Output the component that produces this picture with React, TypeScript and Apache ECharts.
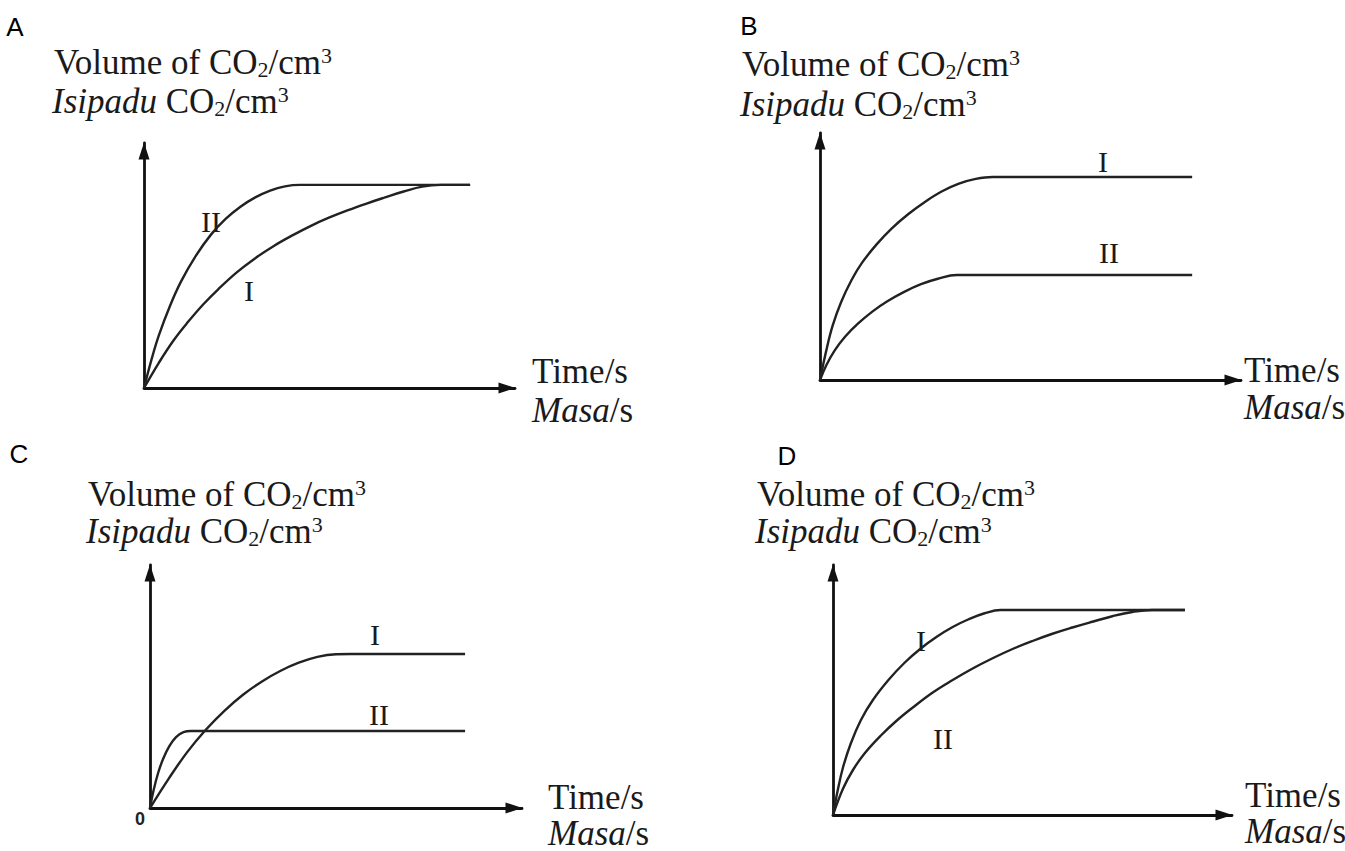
import React, { useEffect, useRef } from "react";
import * as echarts from "echarts";

// ---- data (time %, volume % of each axis span) ----
const panelLetters = ["A", "B", "C", "D"];
const curveNames = ["I", "II"];
const yTitleEn = "Volume of CO";
const yTitleMs = "Isipadu";
const xTitleEn = "Time/s";
const xTitleMs = "Masa";
const originLabel = "0";

const panelA_I = [[0, 0], [4, 10.3], [8, 19.5], [12, 27.2], [16, 34.2], [20, 40.3], [25, 47.2], [30, 53.0], [35, 58.0], [40, 62.3], [45, 66.2], [50, 69.6], [55, 72.6], [60, 75.3], [65, 77.8], [70, 80.2], [75, 82.2], [80, 82.9], [87.9, 82.9]];
const panelA_II = [[0, 0], [2, 11.5], [4, 21.5], [7, 33.5], [10, 43.5], [14, 54.0], [18, 62.5], [22, 69.0], [26, 74.0], [30, 77.8], [34, 80.6], [38, 82.3], [42, 82.9], [87.9, 82.9]];

const panelB_I = [[0, 0], [1.5, 12], [3, 22], [5, 31.5], [7.5, 40.5], [10, 47.5], [13.5, 55.0], [17, 61.3], [21, 67.2], [25, 72.2], [29, 76.4], [33, 79.5], [37, 81.4], [41, 82.2], [88.4, 82.2]];
const panelB_II = [[0, 0], [1.5, 6.0], [3.5, 12.0], [6, 17.6], [9, 22.8], [12.5, 27.8], [16, 31.9], [20, 35.7], [24, 38.8], [28, 41.0], [32.5, 42.5], [88.4, 42.5]];

const panelC_I = [[0, 0], [5, 12.0], [10, 23.0], [15, 32.2], [20, 40.0], [25, 46.6], [30, 52.0], [35, 56.4], [40, 59.8], [45, 62.2], [50, 63.3], [54, 63.4], [84.7, 63.4]];
const panelC_II = [[0, 0], [1, 7.5], [2.2, 14.5], [3.6, 20.5], [5.2, 25.5], [7, 29.2], [9, 31.2], [11, 31.7], [84.7, 31.7]];

const panelD_I = [[0, 0], [1.2, 10], [2.5, 19.0], [4.5, 28.8], [7, 38.0], [10, 46.0], [14, 54.2], [18, 61.0], [22, 66.6], [26, 71.3], [30, 75.2], [34, 78.3], [38, 80.7], [42, 82.0], [88.2, 82.0]];
const panelD_II = [[0, 0], [2.5, 10.5], [5, 18.0], [8, 24.8], [12, 31.8], [16, 37.8], [20, 43.0], [25, 49.0], [30, 54.0], [35, 58.6], [40, 62.7], [45, 66.4], [50, 69.6], [55, 72.5], [60, 75.0], [65, 77.3], [70, 79.5], [75, 81.2], [80, 82.0], [88.2, 82.0]];

const curves = [
  [panelA_I, panelA_II],
  [panelB_I, panelB_II],
  [panelC_I, panelC_II],
  [panelD_I, panelD_II],
];

// ---- layout ----
const grids = [
  { left: 144, top: 143, width: 371, height: 245 },
  { left: 820, top: 133, width: 421, height: 247 },
  { left: 150, top: 565, width: 372, height: 243 },
  { left: 833, top: 565, width: 399, height: 250 },
];
const letterPos = [[15, 27], [749, 26], [19, 454], [787, 456]];
const headerPos = [[54, 44, 83], [742, 46, 86], [88, 476, 513], [757, 476, 513]];
const xTitlePos = [[532, 353, 392], [1244, 352, 389], [548, 779, 815], [1245, 777, 813]];
const curveLabelPos = [
  [[249, 290], [211, 221]],
  [[1103, 161], [1109, 252]],
  [[375, 634], [379, 714]],
  [[921, 640], [943, 738]],
];

const SERIF = '"Liberation Serif", "Times New Roman", serif';
const SANS = '"Liberation Sans", Arial, sans-serif';
const INK = "#1a1a1a";

const rich = {
  n: { fontSize: 35, fontFamily: SERIF, lineHeight: 36, verticalAlign: "middle", fill: INK },
  i: { fontSize: 35, fontFamily: SERIF, fontStyle: "italic", lineHeight: 36, verticalAlign: "middle", fill: INK },
  sub: { fontSize: 22, fontFamily: SERIF, lineHeight: 19, verticalAlign: "bottom", fill: INK },
  sup: { fontSize: 22, fontFamily: SERIF, lineHeight: 25, verticalAlign: "top", fill: INK },
};

function richText(x: number, y: number, text: string) {
  return {
    type: "text",
    x,
    y,
    silent: true,
    style: { text, rich, fill: INK, fontFamily: SERIF, fontSize: 35, align: "left", verticalAlign: "top" },
  };
}

export default function App() {
  const ref = useRef<HTMLDivElement>(null);

  useEffect(() => {
    if (!ref.current) return;
    const chart = echarts.init(ref.current, null, { renderer: "svg" });

    const axisCommon = (gridIndex: number) => ({
      gridIndex,
      type: "value",
      min: 0,
      max: 100,
      axisLine: {
        show: true,
        onZero: false,
        symbol: ["none", "triangle"],
        symbolSize: [11, 17],
        symbolOffset: [0, -8],
        lineStyle: { color: "#111", width: 2.8 },
      },
      axisTick: { show: false },
      axisLabel: { show: false },
      splitLine: { show: false },
    });

    const series: any[] = [];
    curves.forEach((pair, p) => {
      pair.forEach((data, c) => {
        series.push({
          type: "line",
          name: `${panelLetters[p]}-${curveNames[c]}`,
          xAxisIndex: p,
          yAxisIndex: p,
          data,
          smooth: 0.4,
          showSymbol: false,
          symbol: "none",
          silent: true,
          lineStyle: { color: "#222", width: 2.4 },
        });
      });
    });

    const graphics: any[] = [];
    panelLetters.forEach((L, p) => {
      graphics.push({
        type: "text",
        x: letterPos[p][0],
        y: letterPos[p][1],
        silent: true,
        style: { text: L, font: `26px ${SANS}`, fill: "#000", align: "center", verticalAlign: "middle" },
      });
      const [hx, hy1, hy2] = headerPos[p];
      graphics.push(richText(hx, hy1, `{n|${yTitleEn}}{sub|2}{n|/cm}{sup|3}`));
      graphics.push(richText(hx - 2, hy2, `{i|${yTitleMs}}{n| CO}{sub|2}{n|/cm}{sup|3}`));
      const [tx, ty1, ty2] = xTitlePos[p];
      graphics.push(richText(tx, ty1, `{n|${xTitleEn}}`));
      graphics.push(richText(tx, ty2, `{i|${xTitleMs}}{n|/s}`));
      curveNames.forEach((nm, c) => {
        graphics.push({
          type: "text",
          x: curveLabelPos[p][c][0],
          y: curveLabelPos[p][c][1],
          silent: true,
          style: { text: nm, font: `30px ${SERIF}`, fill: INK, align: "center", verticalAlign: "middle" },
        });
      });
    });
    graphics.push({
      type: "text",
      x: 140,
      y: 819,
      silent: true,
      style: { text: originLabel, font: `bold 18px ${SANS}`, fill: "#222", align: "center", verticalAlign: "middle" },
    });

    chart.setOption({
      animation: false,
      backgroundColor: "#ffffff",
      grid: grids.map((g) => ({ ...g, containLabel: false })),
      xAxis: grids.map((_, i) => axisCommon(i)),
      yAxis: grids.map((_, i) => axisCommon(i)),
      series,
      graphic: graphics,
    });

    return () => chart.dispose();
  }, []);

  return (
    <div
      ref={ref}
      style={{ position: "absolute", left: 0, top: 0, width: 1345, height: 851 }}
    />
  );
}
